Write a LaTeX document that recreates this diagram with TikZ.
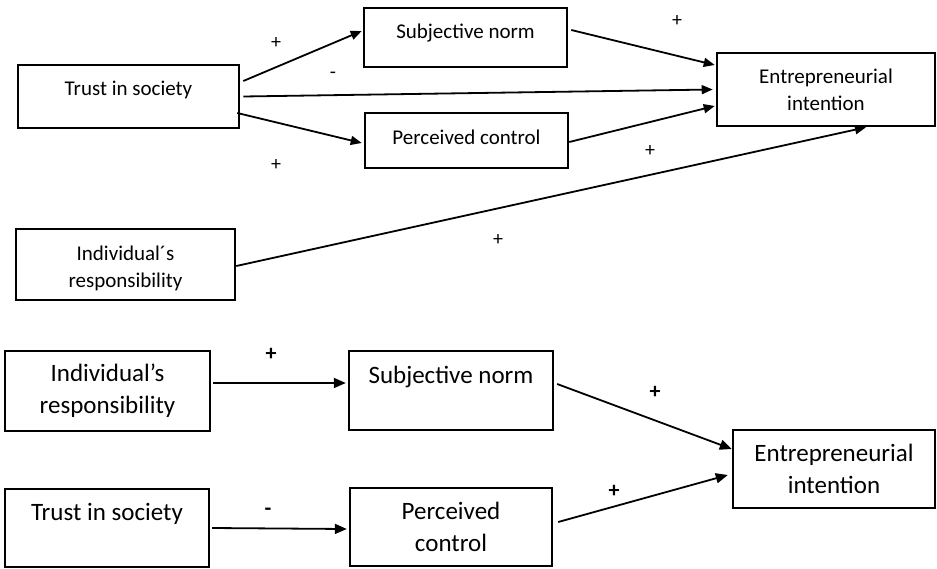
\documentclass[tikz,border=0pt]{standalone}
\usepackage{fontspec}
\setmainfont{Carlito}
\usetikzlibrary{arrows.meta}
\newcommand\upby[2]{\raisebox{#1}[\height][\depth]{#2}}
\begin{document}
\begin{tikzpicture}[x=1pt,y=-1pt,
 box/.style={draw, line width=2.6pt, inner sep=0pt, align=center, font=\fontsize{21}{27}\selectfont},
 bbox/.style={draw, line width=2.4pt, inner sep=0pt, align=center, font=\fontsize{25}{32}\selectfont},
 arr/.style={line width=1.8pt, -{Triangle[length=11pt,width=9pt]}},
 barr/.style={line width=1.8pt, -{Triangle[length=12pt,width=10pt]}},
 sign/.style={inner sep=0pt, font=\fontsize{20}{24}\selectfont},
 bsign/.style={inner sep=0pt, font=\fontsize{22}{24}\selectfont\bfseries}]
\useasboundingbox (0,0) rectangle (937,568);
% top panel
\node[box, minimum width=221pt, minimum height=63pt] (tis1) at (128.5,96.5) {\upby{6.5pt}{Trust in society}};
\node[box, minimum width=203pt, minimum height=59pt] (sn1) at (465.5,37.5) {\upby{4.5pt}{Subjective norm}};
\node[box, minimum width=203pt, minimum height=55pt] (pc1) at (466.5,140.5) {\upby{3.5pt}{Perceived control}};
\node[box, minimum width=218pt, minimum height=73pt] (ei1) at (826,89.5) {Entrepreneurial\\intention};
\node[box, minimum width=219pt, minimum height=71pt] (ir1) at (125.5,264.5) {\upby{-4pt}{Individual´s}\\\upby{-4pt}{responsibility}};
\draw[arr] ([xshift=3pt,yshift=15.5pt]tis1.east) -- ([xshift=-1pt,yshift=6.5pt]sn1.west);
\draw[arr] ([xshift=3pt]tis1.east) -- ([xshift=-3pt]ei1.west);
\draw[arr] ([xshift=-3pt,yshift=-16.5pt]tis1.east) -- ([xshift=-2pt,yshift=-2.5pt]pc1.west);
\draw[arr] ([xshift=3pt,yshift=7.5pt]sn1.east) -- ([xshift=-1pt,yshift=24.5pt]ei1.west);
\draw[arr] ([yshift=-1.5pt]pc1.east) -- ([xshift=-1pt,yshift=-16.5pt]ei1.west);
\draw[arr] ([yshift=-1.5pt]ir1.east) -- ([xshift=40pt]ei1.south);
\node[sign] (p1) at (276,43) {+};
\node[sign] (m1) at (333,75) {-};
\node[sign] (p2) at (276,165) {+};
\node[sign] (p3) at (677,21) {+};
\node[sign] (p4) at (650,151) {+};
\node[sign] (p5) at (498,240) {+};
% bottom panel
\node[bbox, minimum width=205pt, minimum height=80pt] (ir2) at (107.5,391) {Individual’s\\responsibility};
\node[bbox, minimum width=204pt, minimum height=78pt] (tis2) at (107,528) {Trust in society\\\mbox{}};
\node[bbox, minimum width=204pt, minimum height=79pt] (sn2) at (451,390.5) {Subjective norm\\\mbox{}};
\node[bbox, minimum width=202pt, minimum height=78pt] (pc2) at (451,527) {Perceived\\control};
\node[bbox, minimum width=202pt, minimum height=78pt] (ei2) at (834,469) {Entrepreneurial\\intention};
\draw[barr] ([xshift=2pt,yshift=8pt]ir2.east) -- ([xshift=-2pt,yshift=7.5pt]sn2.west);
\draw[barr] ([xshift=2pt]tis2.east) -- ([xshift=-2pt,yshift=-2pt]pc2.west);
\draw[barr] ([xshift=3pt,yshift=6.5pt]sn2.east) -- ([yshift=20pt]ei2.west);
\draw[barr] ([xshift=5pt,yshift=5pt]pc2.east) -- ([xshift=-4pt,yshift=-6pt]ei2.west);
\node[bsign] (p6) at (271,354) {+};
\node[bsign] (m2) at (268,512) {-};
\node[bsign] (p7) at (655,392) {+};
\node[bsign] (p8) at (614,491) {+};
\end{tikzpicture}
\end{document}
